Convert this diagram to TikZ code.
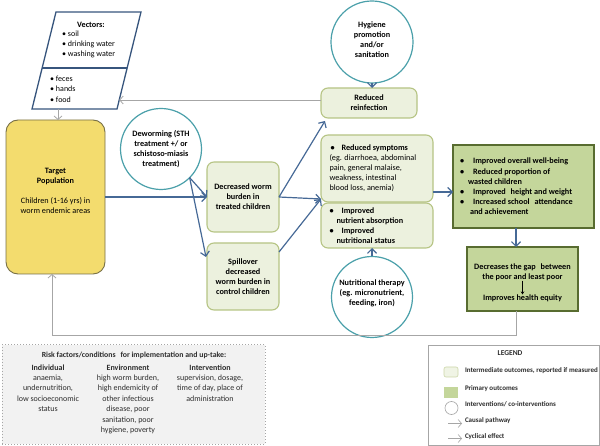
\documentclass[tikz,border=0pt]{standalone}
\usepackage{fontspec}
\setmainfont{Carlito}
\usetikzlibrary{arrows.meta,calc}
\definecolor{targetfill}{RGB}{243,220,110}
\definecolor{targetdraw}{RGB}{120,112,70}
\definecolor{interfill}{RGB}{236,241,222}
\definecolor{interdraw}{RGB}{182,196,132}
\definecolor{primfill}{RGB}{196,214,155}
\definecolor{primdraw}{RGB}{88,108,48}
\definecolor{circdraw}{RGB}{75,160,170}
\definecolor{arrowblue}{RGB}{70,105,150}
\definecolor{vecdraw}{RGB}{55,85,125}
\definecolor{cycgray}{RGB}{166,166,166}
\definecolor{riskfill}{RGB}{242,242,242}
\definecolor{txtgray}{RGB}{45,45,45}
\begin{document}
\begin{tikzpicture}[x=1pt,y=-1pt,
  every node/.style={inner sep=0pt, outer sep=0pt, text=black},
  txt/.style={font=\fontsize{8.2}{10}\selectfont, align=center},
  btxt/.style={font=\fontsize{8.2}{10}\selectfont\bfseries, align=center},
  ntxt/.style={font=\fontsize{8}{10.4}\selectfont, align=center, text=txtgray},
  ltxt/.style={font=\fontsize{7}{8}\selectfont\bfseries, anchor=west, text=txtgray},
  targetbox/.style={draw=targetdraw, fill=targetfill, line width=0.9pt, rounded corners=12pt},
  interbox/.style={draw=interdraw, fill=interfill, line width=1.1pt, rounded corners=7pt},
  primbox/.style={draw=primdraw, fill=primfill, line width=1.5pt},
  interv/.style={circle, draw=circdraw, fill=white, line width=1.2pt},
  vecline/.style={draw=vecdraw, line width=1.3pt},
  causal/.style={draw=arrowblue, line width=1.2pt, -{Straight Barb[length=4.5pt,width=9pt]}},
  cyclic/.style={draw=cycgray, line width=0.8pt, -{Straight Barb[length=3.5pt,width=8pt]}},
  swatch/.style={minimum width=14pt, minimum height=10pt}
]
\useasboundingbox (0,0) rectangle (600,446);

% ---------- vectors parallelogram ----------
\draw[vecline, fill=white] (56,12) -- (141,12) -- (117,109) -- (32,109) -- cycle;
\draw[vecline] (42.1,68) -- (127.1,68);
\coordinate (vecbot) at (58,109);
\coordinate (vecright) at (119.2,100);
\node[btxt] (vectitle) at (91,25) {Vectors:};
\node[ntxt, align=left, anchor=west, text=black] (veclist) at (62,44.5) {•\hspace{2pt}soil\\•\hspace{2pt}drinking water\\•\hspace{2pt}washing water};
\node[ntxt, align=left, anchor=west, text=black] (veclist2) at (50,89) {•\hspace{2pt}feces\\•\hspace{2pt}hands\\•\hspace{2pt}food};

% ---------- target population ----------
\node[targetbox, minimum width=99pt, minimum height=154pt] (target) at (55.5,197) {};
\node[txt] (targettxt) at (55.5,191) {\textbf{Target}\\\textbf{Population}\\[10pt]Children (1-16 yrs) in\\worm endemic areas};

% ---------- interventions (circles) ----------
\node[interv, minimum size=82pt] (hyg) at (372,42) {};
\node[btxt] (hygtxt) at (372,39.5) {Hygiene\\promotion\\and/or\\sanitation};
\node[interv, minimum size=81pt] (dew) at (161,149) {};
\node[btxt] (dewtxt) at (161,149) {Deworming (STH\\treatment +/ or\\schistoso-miasis\\treatment)};
\node[interv, minimum size=81pt] (nut) at (372,297) {};
\node[btxt] (nuttxt) at (372,293) {Nutritional therapy\\(eg. micronutrient,\\feeding, iron)};

% ---------- intermediate outcomes ----------
\node[interbox, minimum width=72pt, minimum height=70pt] (dec) at (243,197) {};
\node[btxt] (dectxt) at (243,197) {Decreased worm\\burden in\\treated children};
\node[interbox, minimum width=72pt, minimum height=67pt] (spill) at (243,276.5) {};
\node[btxt] (spilltxt) at (243,276.5) {Spillover\\decreased\\worm burden in\\control children};
\node[interbox, minimum width=96pt, minimum height=30pt] (reinf) at (369,103) {};
\node[btxt] (reinftxt) at (369,103) {Reduced\\reinfection};
\node[interbox, minimum width=112pt, minimum height=67pt] (sympt) at (377,168.5) {};
\node[txt, align=left, anchor=west] (sympttxt) at (329.5,168.5) {\textbf{\hspace{1pt}•\hspace{7pt}Reduced symptoms}\\(eg. diarrhoea, abdominal\\pain, general malaise,\\weakness, intestinal\\blood loss, anemia)};
\node[interbox, minimum width=112pt, minimum height=45pt] (nutr) at (377,225.5) {};
\node[btxt, align=left, anchor=west] (nutrtxt) at (329.5,225.5) {•\hspace{8pt}Improved\\\hspace{7pt}nutrient absorption\\•\hspace{8pt}Improved\\\hspace{7pt}nutritional status};

% ---------- primary outcomes ----------
\node[primbox, minimum width=141pt, minimum height=83pt] (prim) at (523.5,186.5) {};
\node[font=\fontsize{8.2}{10.2}\selectfont\bfseries, align=left, anchor=west] (primtxt) at (460,186.5) {•\hspace{9pt}Improved overall well-being\\•\hspace{9pt}Reduced proportion of\\\hspace{8pt}wasted children\\•\hspace{9pt}Improved\hspace{3pt} height and weight\\•\hspace{9pt}Increased school\hspace{3pt} attendance\\\hspace{10pt}and achievement};
\node[primbox, minimum width=111pt, minimum height=64pt] (eq) at (522.5,279) {};
\node[btxt] (eqtop) at (522.5,272) {Decreases the gap\hspace{3pt} between\\the poor and least poor};
\node[btxt] (eqbot) at (522.5,298) {Improves health equity};
\draw[line width=0.8pt, -{Stealth[length=3pt,width=3.5pt]}] (eqtop.south) -- (eqbot.north);

% ---------- connectors ----------
\draw[cyclic] (vecbot) -- (vecbot |- target.north);
\draw[causal] (target.east) -- (dec.west);
\draw[causal] (dew.-45) -- (dec.west);
\draw[causal] (dew.-45) -- ($(spill.north west)+(-1,14)$);
\draw[causal] (hyg.south) -- (hyg.south |- reinf.north);
\draw[causal] (nut.north) -- (nut.north |- nutr.south);
\draw[causal] (dec.east) -- ($(reinf.south west)+(4,3)$);
\coordinate (junc) at ($(sympt.south west)+(0,-3)$);
\draw[causal] (dec.east) -- (junc);
\draw[causal] ($(spill.north east)+(0,9)$) -- (junc);
\coordinate (symout) at ($(sympt.south east)+(0,-10)$);
\draw[causal] (symout) -- (symout -| prim.west);
\coordinate (primout) at ($(prim.south)+(-7.5,0)$);
\draw[causal] (primout) -- (primout |- eq.north);
\draw[cyclic] ($(reinf.west)+(0,-3)$) -- (vecright);
\coordinate (cyc1) at ($(eq.south)+(-6.5,0)$);
\coordinate (cyc2) at (516,335);
\coordinate (cyc3) at (52,335);
\draw[cyclic] (cyc1) -- (cyc2) -- (cyc3) -- (cyc3 |- target.south);

% ---------- risk factors box ----------
\node[draw=cycgray, fill=riskfill, dotted, line width=1pt, minimum width=263pt, minimum height=99pt] (risk) at (133.5,394.5) {};
\node[font=\fontsize{7.8}{10}\selectfont\bfseries, text=txtgray] (risktitle) at (134,355.5) {Risk factors/conditions\hspace{3pt} for implementation and up-take:};
\node[ntxt, anchor=north] (riskind) at (48,364.5) {\textbf{Individual}\\anaemia,\\undernutrition,\\low socioeconomic\\status};
\node[ntxt, anchor=north] (riskenv) at (128,364.5) {\textbf{Environment}\\high worm burden,\\high endemicity of\\other infectious\\disease, poor\\sanitation, poor\\hygiene, poverty};
\node[ntxt, anchor=north] (riskint) at (210,364.5) {\textbf{Intervention}\\supervision, dosage,\\time of day, place of\\administration};

% ---------- legend ----------
\node[draw=cycgray, fill=white, line width=0.9pt, minimum width=171pt, minimum height=100pt] (legend) at (513.5,395) {};
\node[font=\fontsize{7.5}{8}\selectfont\bfseries, text=txtgray] (legtitle) at (510,353) {LEGEND};
\node[swatch, draw=interdraw!70, fill=interfill!80, rounded corners=2pt, line width=0.6pt] (sw1) at (451,372) {};
\node[ltxt] (lt1) at (465,371) {Intermediate outcomes, reported if measured};
\node[swatch, fill=primfill] (sw2) at (451,392.5) {};
\node[ltxt] (lt2) at (465,388.5) {Primary outcomes};
\node[circle, draw=cycgray, line width=0.6pt, minimum size=13pt] (sw3) at (451.5,408) {};
\node[ltxt] (lt3) at (465,404.5) {Interventions/ co-interventions};
\coordinate (la1) at (448,423.5);
\coordinate (la2) at (462,423.5);
\draw[cyclic, line width=0.6pt] (la1) -- (la2);
\node[ltxt] (lt4) at (465,421) {Causal pathway};
\coordinate (lb1) at (448,438.5);
\coordinate (lb2) at (462,438.5);
\draw[cyclic, line width=0.6pt] (lb1) -- (lb2);
\node[ltxt] (lt5) at (465,437) {Cyclical effect};
\end{tikzpicture}
\end{document}
